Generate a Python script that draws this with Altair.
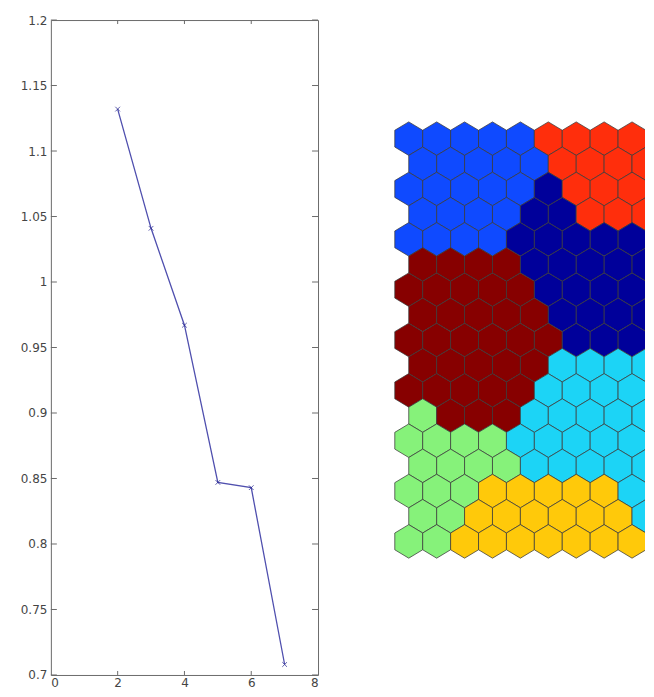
import altair as alt
import pandas as pd

# ---------------- left panel: line with markers ----------------
k_values = [2, 3, 4, 5, 6, 7]
err_values = [1.132, 1.041, 0.967, 0.847, 0.843, 0.708]
x_ticks = [0, 2, 4, 6, 8]
x_inner_ticks = [2, 4, 6]
y_ticks = [0.7, 0.75, 0.8, 0.85, 0.9, 0.95, 1.0, 1.05, 1.1, 1.15, 1.2]

# ---------------- right panel: hexagonal map (rows top->bottom) ----------------
hex_rows = [
    "BBBBBRRRR",
    "BBBBBRRRR",
    "BBBBBNRRR",
    "BBBBNNRRR",
    "BBBBNNNNN",
    "DDDDNNNNN",
    "DDDDDNNNN",
    "DDDDDNNNN",
    "DDDDDDNNN",
    "DDDDDCCCC",
    "DDDDDCCCC",
    "GDDDCCCCC",
    "GGGGCCCCC",
    "GGGGCCCCC",
    "GGGYYYYYC",
    "GGYYYYYYC",
    "GGYYYYYYY",
]
cluster_ids = ["B", "R", "N", "D", "C", "G", "Y"]
cluster_colors = ["#0f4aff", "#ff2e0c", "#00009a", "#870000", "#1cd4f6", "#86f27a", "#ffc90a"]

W, H = 268, 657
TOP = 19
FONT = "DejaVu Sans"
FRAME = "#6a6a6a"

line_df = pd.DataFrame({"k": k_values, "err": err_values})
ytick_df = pd.DataFrame({"v": y_ticks})
xtick_df = pd.DataFrame({"v": x_inner_ticks})

xs = alt.Scale(domain=[0, 8], nice=False, zero=False)
ys = alt.Scale(domain=[0.7, 1.2], nice=False, zero=False)

x_axis = alt.Axis(values=x_ticks, title=None, grid=False, tickSize=0, domain=False,
                  labelPadding=3, labelFontSize=12, labelFont=FONT, labelColor="#444444")
y_axis = alt.Axis(values=y_ticks, format="~g", title=None, grid=False, tickSize=0, domain=False,
                  labelPadding=4, labelFontSize=12, labelFont=FONT, labelColor="#444444",
                  minExtent=42, maxExtent=42)

line = alt.Chart(line_df).mark_line(color="#4f4fae", strokeWidth=1.3).encode(
    x=alt.X("k:Q", scale=xs, axis=x_axis),
    y=alt.Y("err:Q", scale=ys, axis=y_axis),
)
pts = alt.Chart(line_df).mark_point(
    shape="M-1,-1L1,1M-1,1L1,-1", filled=False, size=22, color="#1f1f8c", strokeWidth=1
).encode(
    x=alt.X("k:Q", scale=xs, axis=x_axis),
    y=alt.Y("err:Q", scale=ys, axis=y_axis),
)

tick_len = 6
left_ticks = alt.Chart(ytick_df).mark_rule(color=FRAME, strokeWidth=1).encode(
    y=alt.Y("v:Q", scale=ys, axis=y_axis), x=alt.value(0), x2=alt.value(tick_len))
right_ticks = alt.Chart(ytick_df).mark_rule(color=FRAME, strokeWidth=1).encode(
    y=alt.Y("v:Q", scale=ys, axis=y_axis), x=alt.value(W - tick_len), x2=alt.value(W))
bottom_ticks = alt.Chart(xtick_df).mark_rule(color=FRAME, strokeWidth=1).encode(
    x=alt.X("v:Q", scale=xs, axis=x_axis), y=alt.value(H - 4), y2=alt.value(H))
top_ticks = alt.Chart(xtick_df).mark_rule(color=FRAME, strokeWidth=1).encode(
    x=alt.X("v:Q", scale=xs, axis=x_axis), y=alt.value(0), y2=alt.value(4))

left = alt.layer(left_ticks, right_ticks, bottom_ticks, top_ticks, line, pts).properties(
    width=W, height=H)

# ---------------- hex map ----------------
cells = []
for r, row in enumerate(hex_rows):
    for c, ch in enumerate(row):
        cells.append({"hx": c + 0.5 * (r % 2), "hy": r, "cluster": ch})
hex_df = pd.DataFrame(cells)

RW = 308
cell_w = 28.0
cell_h = 25.25
x0 = -(409 - 338) / cell_w
x1 = x0 + RW / cell_w
y0 = -(138 - TOP) / cell_h
y1 = y0 + H / cell_h

hex_path = "M0,-1.04L0.866,-0.52L0.866,0.52L0,1.04L-0.866,0.52L-0.866,-0.52Z"
u = cell_w / 1.732
hex_size = (2 * u) ** 2

hexes = alt.Chart(hex_df).mark_point(
    shape=hex_path, filled=True, size=hex_size, opacity=1,
    stroke="#3a3a3a", strokeWidth=1, strokeOpacity=0.75, clip=True
).encode(
    x=alt.X("hx:Q", scale=alt.Scale(domain=[x0, x1], nice=False, zero=False), axis=None),
    y=alt.Y("hy:Q", scale=alt.Scale(domain=[y0, y1], nice=False, zero=False, reverse=True), axis=None),
    fill=alt.Fill("cluster:N", scale=alt.Scale(domain=cluster_ids, range=cluster_colors), legend=None),
).properties(width=RW, height=H, view=alt.ViewBackground(stroke="transparent"))

chart = alt.hconcat(left, hexes, spacing=20, bounds="flush").properties(
    padding={"left": 0, "right": 0, "top": 4, "bottom": 0}
).configure_view(stroke=FRAME, strokeWidth=1)

chart.save("out.html", embed_options={"renderer": "svg", "actions": False})
